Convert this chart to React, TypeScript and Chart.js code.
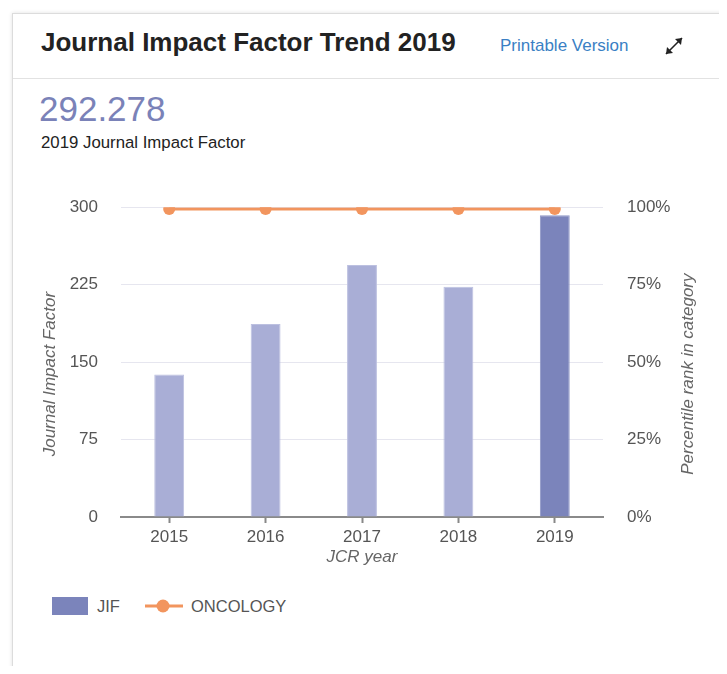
import React, { useEffect, useRef } from "react";
import { Chart, registerables } from "chart.js";

Chart.register(...registerables);

const years = ["2015", "2016", "2017", "2018", "2019"];
const jifValues = [138, 187, 244, 223, 292.278];
const percentileValues = [99.4, 99.4, 99.4, 99.4, 99.4];
const leftTicks = [0, 75, 150, 225, 300];
const rightTicks = [0, 25, 50, 75, 100];
const leftTitle = "Journal Impact Factor";
const rightTitle = "Percentile rank in category";

const FONT = "'Liberation Sans', Arial, sans-serif";
const LIGHT_BAR = "#a9aed6";
const DARK_BAR = "#7b84bb";
const ORANGE = "#f2955e";

const axisTitlePlugin = {
  id: "axisTitles",
  afterDraw(chart: any) {
    const ctx = chart.ctx;
    const area = chart.chartArea;
    const cy = (area.top + area.bottom) / 2 + 12;
    ctx.save();
    ctx.font = `italic 17px ${FONT}`;
    ctx.fillStyle = "#666";
    ctx.textAlign = "center";
    ctx.textBaseline = "middle";
    const draw = (text: string, x: number) => {
      ctx.save();
      ctx.translate(x, cy);
      ctx.rotate(-Math.PI / 2);
      ctx.fillText(text, 0, 0);
      ctx.restore();
    };
    draw(leftTitle, chart.scales.y.left + 30);
    draw(rightTitle, chart.scales.yR.right - 32);
    ctx.restore();
  },
};

export default function App() {
  const ref = useRef<HTMLCanvasElement | null>(null);

  useEffect(() => {
    if (!ref.current) return;
    const chart = new Chart(ref.current, {
      type: "bar",
      data: {
        labels: years,
        datasets: [
          {
            type: "line",
            label: "ONCOLOGY",
            data: percentileValues,
            yAxisID: "yR",
            borderColor: ORANGE,
            backgroundColor: ORANGE,
            borderWidth: 3,
            pointRadius: 6,
            pointBorderWidth: 0,
            pointBackgroundColor: ORANGE,
            order: 0,
          } as any,
          {
            type: "bar",
            label: "JIF",
            data: jifValues,
            yAxisID: "y",
            backgroundColor: jifValues.map((_, i) => (i === jifValues.length - 1 ? DARK_BAR : LIGHT_BAR)),
            borderColor: jifValues.map((_, i) => (i === jifValues.length - 1 ? "#8f97c6" : "#bcc0e0")),
            borderWidth: 1,
            barPercentage: 0.31,
            categoryPercentage: 1,
            order: 1,
          } as any,
        ],
      },
      plugins: [axisTitlePlugin],
      options: {
        responsive: false,
        animation: false,
        layout: { padding: { top: 14, bottom: 0, left: 0, right: 0 } },
        plugins: { legend: { display: false }, tooltip: { enabled: false } },
        scales: {
          x: {
            offset: true,
            grid: { display: true, drawOnChartArea: false, offset: false, color: "#888", tickLength: 6, tickWidth: 2 },
            border: { display: true, color: "#8a8a8a", width: 2 },
            ticks: { color: "#555", font: { family: FONT, size: 17 }, padding: 4 },
            title: { display: true, text: "JCR year", color: "#666", font: { family: FONT, size: 17, style: "italic" }, padding: { top: 0, bottom: 3 } },
            afterFit: (s: any) => { s.height = 53; },
          },
          y: {
            position: "left",
            min: 0,
            max: 300,
            afterBuildTicks: (s: any) => { s.ticks = leftTicks.map((v) => ({ value: v })); },
            grid: { color: "#e6e6ef", lineWidth: 1, drawTicks: false },
            border: { display: false },
            ticks: { color: "#555", font: { family: FONT, size: 17 }, padding: 23 },
            afterFit: (s: any) => { s.width = 101; },
          },
          yR: {
            position: "right",
            min: 0,
            max: 100,
            afterBuildTicks: (s: any) => { s.ticks = rightTicks.map((v) => ({ value: v })); },
            grid: { drawOnChartArea: false, drawTicks: false },
            border: { display: false },
            ticks: { color: "#555", font: { family: FONT, size: 17 }, padding: 24, callback: (v: any) => v + "%" },
            afterFit: (s: any) => { s.width = 117; },
          },
        },
      },
    });
    return () => chart.destroy();
  }, []);

  return (
    <div style={{ position: "relative", width: 727, height: 674, fontFamily: FONT, margin: -8, overflow: "hidden", background: "#fff" }}>
      <div style={{ position: "absolute", left: 12, top: 13, width: 730, height: 680, border: "1px solid #dcdcdc", boxShadow: "0 0 4px rgba(0,0,0,0.12)", background: "#fff" }} />
      <div style={{ position: "absolute", left: 13, top: 78, width: 720, height: 1, background: "#e2e2e2" }} />
      <div style={{ position: "absolute", left: 41, top: 27, fontSize: 26, fontWeight: "bold", color: "#222", whiteSpace: "nowrap" }}>
        Journal Impact Factor Trend 2019
      </div>
      <div style={{ position: "absolute", left: 500, top: 36, fontSize: 17, color: "#3a7fc4", whiteSpace: "nowrap" }}>
        Printable Version
      </div>
      <svg style={{ position: "absolute", left: 663, top: 35 }} width="22" height="22" viewBox="0 0 22 22">
        <line x1="3" y1="19" x2="19" y2="3" stroke="#222" strokeWidth="1.6" />
        <polygon points="19,3 12,4 18,10" fill="#222" />
        <polygon points="3,19 4,12 10,18" fill="#222" />
      </svg>
      <div style={{ position: "absolute", left: 39, top: 89, fontSize: 35, color: "#7a82b8", whiteSpace: "nowrap" }}>
        292.278
      </div>
      <div style={{ position: "absolute", left: 41, top: 133, fontSize: 16.8, color: "#222", whiteSpace: "nowrap" }}>
        2019 Journal Impact Factor
      </div>
      <canvas ref={ref} width={700} height={397} style={{ position: "absolute", left: 20, top: 173, width: 700, height: 397 }} />
      <div style={{ position: "absolute", left: 52, top: 597, width: 36, height: 18, background: DARK_BAR }} />
      <div style={{ position: "absolute", left: 97, top: 597, fontSize: 16.5, color: "#555", lineHeight: "18px" }}>JIF</div>
      <svg style={{ position: "absolute", left: 145, top: 596 }} width="38" height="20" viewBox="0 0 38 20">
        <line x1="0" y1="10" x2="38" y2="10" stroke={ORANGE} strokeWidth="3" />
        <circle cx="18" cy="10" r="6.5" fill={ORANGE} />
      </svg>
      <div style={{ position: "absolute", left: 191, top: 597, fontSize: 16.5, color: "#555", lineHeight: "18px" }}>ONCOLOGY</div>
    </div>
  );
}
